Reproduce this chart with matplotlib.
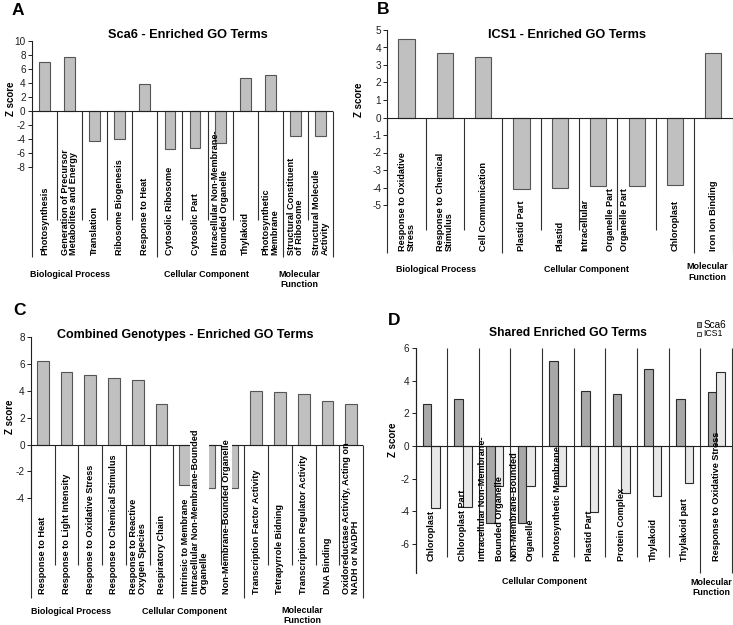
import matplotlib
matplotlib.use("Agg")
import matplotlib.pyplot as plt
from matplotlib import font_manager
from matplotlib.patches import Rectangle

W, H = 733, 625

# fonts: a narrow bold face if the box has one, else plain Arial-like
avail = {f.name for f in font_manager.fontManager.ttflist}
NARROW = 'Liberation Sans Narrow' if 'Liberation Sans Narrow' in avail else 'Liberation Sans'
SANS = 'Liberation Sans'
plt.rcParams['font.family'] = SANS
plt.rcParams['axes.unicode_minus'] = False

# ---------------- data ----------------
a_terms = ["Photosynthesis", "Generation of Precursor\nMetabolites and Energy", "Translation",
           "Ribosome Biogenesis", "Response to Heat", "Cytosolic Ribosome", "Cytosolic Part",
           "Intracellular Non-Membrane-\nBounded Organelle", "Thylakoid", "Photosynthetic\nMembrane",
           "Structural Constituent\nof Ribosome", "Structural Molecule\nActivity"]
a_z = [7.1, 7.7, -4.25, -3.9, 3.95, -5.45, -5.2, -4.5, 4.75, 5.25, -3.55, -3.55]
a_groups = ["Biological Process", "Cellular Component", "Molecular\nFunction"]
a_group_sizes = [5, 5, 2]

b_terms = ["Response to Oxidative\nStress", "Response to Chemical\nStimulus", "Cell Communication",
           "Plastid Part", "Plastid", "Intracellular\nOrganelle Part", "Organelle Part",
           "Chloroplast", "Iron Ion Binding"]
b_z = [4.5, 3.7, 3.48, -4.1, -4.05, -3.92, -3.92, -3.86, 3.7]
b_groups = ["Biological Process", "Cellular Component", "Molecular\nFunction"]
b_group_sizes = [3, 5, 1]

c_terms = ["Response to Heat", "Response to Light Intensity", "Response to Oxidative Stress",
           "Response to Chemical Stimulus", "Response to Reactive\nOxygen Species", "Respiratory Chain",
           "Intrinsic to Membrane", "Intracellular Non-Membrane-Bounded\nOrganelle",
           "Non-Membrane-Bounded Organelle", "Transcription Factor Activity", "Tetrapyrrole Bidning",
           "Transcription Regulator Activity", "DNA Binding",
           "Oxidoreductase Activity, Acting on\nNADH or NADPH"]
c_z = [6.2, 5.45, 5.2, 4.97, 4.8, 3.0, -3.0, -3.25, -3.25, 4.0, 3.9, 3.8, 3.28, 3.05]
c_groups = ["Biological Process", "Cellular Component", "Molecular\nFunction"]
c_group_sizes = [6, 3, 5]

d_terms = ["Chloroplast", "Chloroplast Part", "Intracellular Non-Membrane-\nBounded Organelle",
           "Non-Membrane-Bounded\nOrganelle", "Photosynthetic Membrane", "Plastid Part",
           "Protein Complex", "Thylakoid", "Thylakoid part", "Response to Oxidative Stress"]
d_sca6 = [2.6, 2.9, -4.75, -4.75, 5.25, 3.4, 3.2, 4.75, 2.9, 3.3]
d_ics1 = [-3.83, -3.73, -2.46, -2.46, -2.46, -4.05, -2.9, -3.1, -2.3, 4.55]
d_series = ["Sca6", "ICS1"]
d_groups = ["Cellular Component", "Molecular\nFunction"]
d_group_sizes = [9, 1]

# ---------------- layout (figure pixels, measured from the top) ----------------
LAYOUT = {
    'A': dict(box=(32, 333, 41.3, 167.3), ylim=(-8, 10), yticks=range(-8, 11, 2),
              sep_from='zero', short=220, long=256.5, lab_bottom=255,
              groups_px=[(70, 275), (206, 275), (299, 279.5)],
              title=("Sca6 - Enriched GO Terms", 188, 35, 9.2), letter=(12, 3), zlab=(10.5, 99),
              width=0.43, label_dx={}, label_box=()),
    'B': dict(box=(387.3, 732.5, 30, 205), ylim=(-5, 5), yticks=range(-5, 6),
              sep_from='zero', short=230, long=253, lab_bottom=251,
              groups_px=[(436, 269.5), (587, 269.5), (707, 272)],
              title=("ICS1 - Enriched GO Terms", 567, 35, 9.2), letter=(377, 2), zlab=(358.5, 100),
              width=0.42, label_dx={5: [-0.36, 0.31], 6: [-0.31]}, label_box=()),
    'C': dict(box=(31, 363, 337.3, 498.3), ylim=(-4, 8), yticks=range(-4, 9, 2),
              sep_from='zero', short=565, long=598, lab_bottom=594,
              groups_px=[(71, 611), (185, 611), (302, 615.5)],
              title=("Combined Genotypes - Enriched GO Terms", 185, 335, 9.0), letter=(13, 303),
              zlab=(10, 417), width=0.49, label_dx={7: [-0.40], 8: [-0.245]},
              label_box=(7, 8)),
    'D': dict(box=(415.5, 732, 348.3, 573), ylim=(-7.8, 6), yticks=range(-6, 7, 2),
              sep_from='top', short=556.7, long=573, lab_bottom=561,
              groups_px=[(545, 581.7), (711, 587.5)],
              title=("Shared Enriched GO Terms", 568, 333, 8.7), letter=(388, 313), zlab=(393, 439.5),
              width=0.27, label_dx={2: [-0.39, 0.14], 3: [-0.40, 0.12]}, label_box=()),
}

BAR_FILL = '#c0c0c0'
BAR_EDGE = '#555555'
D_FILLS = ['#a8a8a8', '#e8e8e8']
SEP_COLOR = '#303030'

fig = plt.figure(figsize=(W / 100, H / 100), dpi=100)


def fx(xpx):
    return xpx / W


def fy(ypx):
    return 1 - ypx / H


def ydata(ax, ypx):
    return ax.transData.inverted().transform((0, H - ypx))[1]


def draw_panel(key, terms, series, groups, group_sizes, fills):
    lay = LAYOUT[key]
    x0, x1, ytop, ybot = lay['box']
    ax = fig.add_axes([fx(x0), fy(ybot), (x1 - x0) / W, (ybot - ytop) / H])
    n = len(terms)
    ax.set_xlim(-0.5, n - 0.5)
    ax.set_ylim(*lay['ylim'])
    for s in ['top', 'right', 'bottom']:
        ax.spines[s].set_visible(False)
    ax.spines['left'].set_linewidth(0.8)
    ax.spines['left'].set_color('#202020')
    ax.set_xticks([])
    ax.set_yticks(list(lay['yticks']))
    ax.tick_params(axis='y', length=3, width=0.7, pad=1.5, labelsize=7.2, colors='#202020')
    ax.patch.set_alpha(0)

    # bars
    w = lay['width']
    k = len(series)
    for j, vals in enumerate(series):
        off = (j - (k - 1) / 2) * w
        ax.bar([i + off for i in range(n)], vals, width=w, color=fills[j],
               edgecolor=BAR_EDGE if k == 1 else '#2a2a2a', linewidth=0.8, zorder=3)
    ax.axhline(0, color='#202020', lw=0.8, zorder=4)

    # category separators (long ones between GO groups)
    bounds = [0]
    for g in group_sizes:
        bounds.append(bounds[-1] + g)
    y_start = 0 if lay['sep_from'] == 'zero' else lay['ylim'][1]
    y_short = ydata(ax, lay['short'])
    y_long = ydata(ax, lay['long'])
    for i in range(n + 1):
        yb = y_long if i in bounds else y_short
        ax.plot([i - 0.5, i - 0.5], [y_start, yb], color=SEP_COLOR, lw=0.8,
                clip_on=False, zorder=2, solid_capstyle='butt')

    # category labels
    yl = ydata(ax, lay['lab_bottom'])
    for i, t in enumerate(terms):
        box = dict(facecolor='white', edgecolor='none', pad=0.3) if i in lay['label_box'] else None
        dxs = lay['label_dx'].get(i)
        lines = t.split('\n')
        if dxs is None or len(dxs) != len(lines):
            shift = dxs[0] if dxs else 0
            ax.text(i + shift, yl, t, rotation=90, ha='center', va='bottom', multialignment='left',
                    fontsize=6.6, fontweight='bold', clip_on=False, zorder=5, bbox=box,
                    linespacing=0.95)
        else:
            for line, dx in zip(lines, dxs):
                ax.text(i + dx, yl, line, rotation=90, ha='center', va='bottom',
                        fontsize=6.6, fontweight='bold', clip_on=False, zorder=5, bbox=box)

    # group labels
    for name, (gx, gy) in zip(groups, lay['groups_px']):
        fig.text(fx(gx), fy(gy), name, ha='center', va='center', fontsize=6.4,
                 fontweight='bold', family=NARROW, linespacing=1.2)

    title, tx, ty, tsize = lay['title']
    fig.text(fx(tx), fy(ty), title, ha='center', va='center', fontsize=tsize,
             fontweight='bold', family=NARROW)
    lx, ly = lay['letter']
    fig.text(fx(lx), fy(ly), key, ha='left', va='top', fontsize=12.5, fontweight='bold')
    zx, zy = lay['zlab']
    fig.text(fx(zx), fy(zy), "Z score", ha='center', va='center', rotation=90,
             fontsize=7, fontweight='bold')
    return ax


draw_panel('A', a_terms, [a_z], a_groups, a_group_sizes, [BAR_FILL])
draw_panel('B', b_terms, [b_z], b_groups, b_group_sizes, [BAR_FILL])
draw_panel('C', c_terms, [c_z], c_groups, c_group_sizes, [BAR_FILL])
draw_panel('D', d_terms, [d_sca6, d_ics1], d_groups, d_group_sizes, D_FILLS)

# legend for panel D
for (name, fill, ypx, fs) in zip(d_series, D_FILLS, [324.5, 334], [7.2, 6.3]):
    fig.add_artist(Rectangle((fx(696.7), fy(ypx + 2.3)), 4.5 / W, 4.6 / H,
                             transform=fig.transFigure, facecolor=fill,
                             edgecolor='#2a2a2a', lw=0.6))
    fig.text(fx(703.5), fy(ypx), name, ha='left', va='center', fontsize=fs)

fig.savefig('out.png', dpi=100)
